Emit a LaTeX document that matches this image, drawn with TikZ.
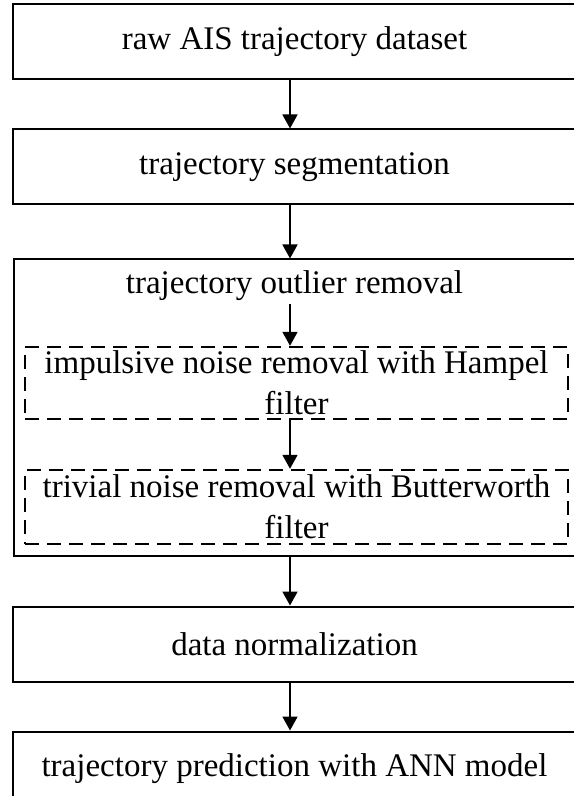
\documentclass[tikz,border=0pt]{standalone}
\usepackage{fontspec}
\setmainfont{Liberation Serif}
\usepackage{tikz}
\usetikzlibrary{arrows.meta, positioning, calc}
\tikzset{
  stepbox/.style={draw=black, fill=white, align=center, inner sep=0pt,
    minimum height=37.5pt, minimum width=281.5pt, line width=1pt,
    font=\fontsize{16.5}{20.3}\selectfont},
  outerbox/.style={draw=black, inner sep=0pt, minimum height=148pt,
    minimum width=281pt, line width=1pt},
  subbox/.style={draw=black, dash pattern=on 7pt off 4pt, align=center, inner sep=0pt,
    minimum width=271.5pt, line width=1.2pt, font=\fontsize{16.5}{20.3}\selectfont},
  plain/.style={inner sep=1.5pt, font=\fontsize{16.5}{20.3}\selectfont},
  flow/.style={-{Triangle[length=7pt,width=7.5pt]}, draw=black, line width=0.9pt}
}
\begin{document}
\begin{tikzpicture}[x=0.5pt, y=-0.5pt, node distance=24pt]
\useasboundingbox (0,0) rectangle (573,796);
\coordinate (axis) at (290,0);
\node[stepbox] (raw) at (294.5,42) {raw AIS trajectory dataset};
\node[stepbox, below=of raw] (seg) {trajectory segmentation};
\node[outerbox, below=26.5pt of seg] (outlier) {};
\node[plain] (otitle) at ([yshift=-13.5pt]outlier.north) {trajectory outlier removal};
\node[subbox, minimum height=36pt] (hampel) at (296.5,383) {impulsive noise removal with Hampel\\filter};
\node[subbox, minimum height=37pt] (butter) at (296.5,507) {trivial noise removal with Butterworth\\filter};
\node[stepbox, below=24.5pt of outlier] (norm) {data normalization};
\node[stepbox, below=of norm] (pred) {trajectory prediction with ANN model};
% arrows along the main axis
\draw[flow] (raw.south -| axis) -- (seg.north -| axis);
\draw[flow] (seg.south -| axis) -- (outlier.north -| axis);
\draw[flow] (otitle.south -| axis) -- (hampel.north -| axis);
\draw[flow] (hampel.south -| axis) -- (butter.north -| axis);
\draw[flow] (outlier.south -| axis) -- (norm.north -| axis);
\draw[flow] (norm.south -| axis) -- (pred.north -| axis);
\end{tikzpicture}
\end{document}
